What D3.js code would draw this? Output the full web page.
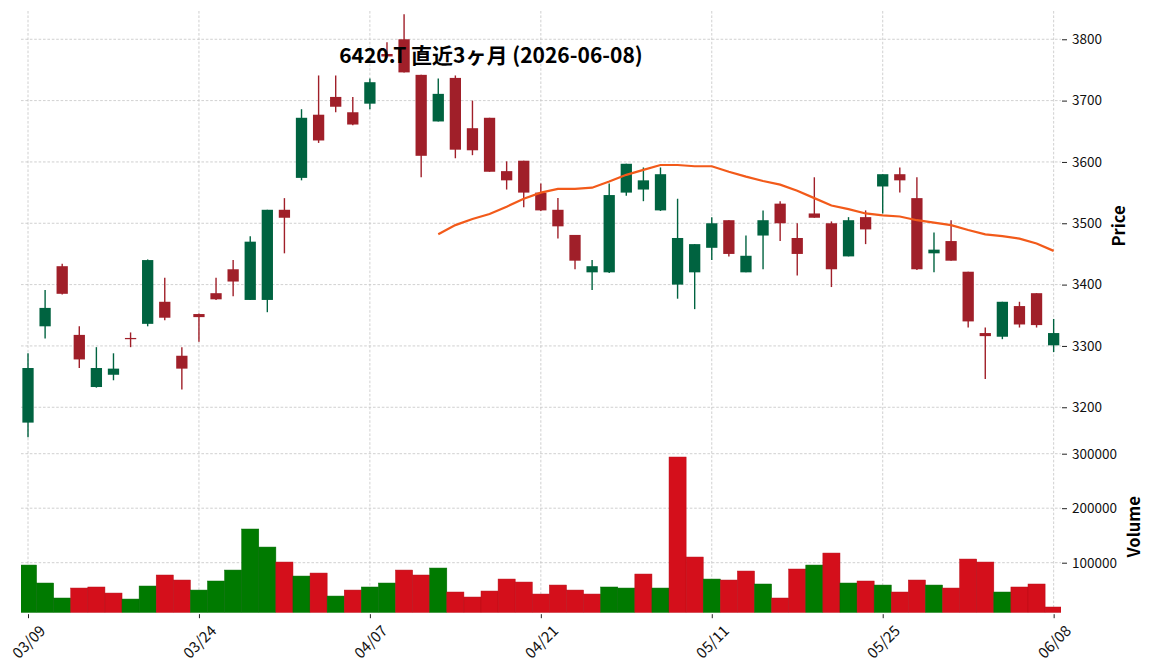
<!DOCTYPE html>
<html>
<head>
<meta charset="utf-8">
<script src="https://cdn.jsdelivr.net/npm/d3@7"></script>
<style>
  body { margin: 0; background: #fff; }
  text { font-family: "Noto Sans CJK JP", "Noto Sans", sans-serif; }
</style>
</head>
<body>
<svg id="chart" width="1152" height="670"></svg>
<script>
const dates = [
  "03/09","03/10","03/11","03/12","03/13","03/16","03/17","03/18","03/19","03/23",
  "03/24","03/25","03/26","03/27","03/30","03/31","04/01","04/02","04/03","04/06",
  "04/07","04/08","04/09","04/10","04/13","04/14","04/15","04/16","04/17","04/20",
  "04/21","04/22","04/23","04/24","04/27","04/28","04/30","05/01","05/07","05/08",
  "05/11","05/12","05/13","05/14","05/15","05/18","05/19","05/20","05/21","05/22",
  "05/25","05/26","05/27","05/28","05/29","06/01","06/02","06/03","06/04","06/05",
  "06/08"
];
const opens = [
  3175,3332,3430,3318,3233,3253,3313,3336,3372,3284,
  3352,3386,3425,3375,3375,3522,3574,3677,3706,3681,
  3695,3776,3800,3742,3666,3737,3655,3672,3585,3602,
  3550,3522,3481,3420,3420,3550,3555,3521,3400,3420,
  3460,3505,3420,3480,3532,3476,3516,3500,3446,3510,
  3560,3580,3541,3451,3471,3421,3321,3315,3365,3386,
  3301
];
const highs = [
  3288,3391,3434,3332,3298,3288,3322,3441,3411,3298,
  3353,3411,3440,3479,3522,3541,3686,3741,3741,3706,
  3736,3795,3841,3742,3736,3741,3700,3672,3601,3602,
  3565,3541,3481,3440,3565,3597,3591,3591,3540,3466,
  3510,3505,3480,3521,3536,3500,3575,3503,3510,3521,
  3580,3591,3575,3485,3505,3421,3330,3372,3372,3386,
  3344
];
const lows = [
  3151,3312,3384,3264,3232,3244,3298,3332,3342,3229,
  3307,3375,3381,3375,3355,3451,3570,3631,3681,3660,
  3686,3770,3746,3575,3666,3606,3611,3584,3555,3526,
  3520,3475,3425,3391,3419,3545,3536,3520,3377,3360,
  3440,3446,3420,3425,3471,3415,3509,3396,3446,3466,
  3516,3550,3424,3420,3439,3330,3246,3311,3330,3330,
  3290
];
const closes = [
  3264,3362,3385,3278,3264,3263,3311,3440,3346,3263,
  3347,3376,3405,3470,3522,3509,3672,3635,3690,3661,
  3730,3772,3746,3610,3711,3620,3619,3584,3570,3550,
  3521,3495,3439,3430,3546,3597,3570,3580,3476,3466,
  3500,3450,3447,3505,3500,3450,3509,3425,3505,3490,
  3580,3570,3425,3457,3439,3340,3316,3372,3335,3334,
  3321
];
const volumes = [
  95700,62700,35200,53500,55400,44300,33300,57200,77400,68200,
  49800,66400,86500,161800,128700,101200,75500,81000,38800,49800,
  55400,62700,86500,77400,90200,46200,37000,48000,70000,64500,
  42500,59000,49800,42500,55400,53500,79200,53500,293900,110400,
  70000,68200,84700,60900,35200,88400,95700,117700,62700,66400,
  59000,46200,68200,59000,53500,106700,101200,46200,55400,60900,
  18700
];
// 25-day moving average, from index 24 on
const maStart = 24;
const ma25 = [
  3482,3497,3507,3515,3527,3540,3550,3556,3556,3558,
  3568,3579,3587,3595,3595,3593,3593,3584,3576,3569,
  3563,3553,3541,3529,3523,3516,3513,3511,3505,3501,
  3497,3489,3482,3479,3475,3467,3455
];
const priceTicks = [3200, 3300, 3400, 3500, 3600, 3700, 3800];
const volumeTicks = [100000, 200000, 300000];
const dateTicks = [0, 10, 20, 30, 40, 50, 60];
const title = "6420.T 直近3ヶ月 (2026-06-08)";

const upColor = "#006340", downColor = "#a01f29";
const volUp = "#007a00", volDown = "#d40f1b";
const maColor = "#f25a1a";
const gridColor = "#c4c4c4";

const svg = d3.select("#chart");
const left = 21, right = 1061;
const price = { top: 11, bottom: 441 };
const vol = { top: 441, bottom: 612.7 };

const x = d3.scaleLinear().domain([-0.41, 60.43]).range([left, right]);
const step = x(1) - x(0);

const y = d3.scaleLinear().domain([3145.0, 3846.1]).range([price.bottom, price.top]);
const yv = d3.scaleLinear().domain([8257, 323303]).range([vol.bottom, vol.top]);

const defs = svg.append("defs");
defs.append("clipPath").attr("id", "clipPrice")
  .append("rect").attr("x", left).attr("y", price.top)
  .attr("width", right - left).attr("height", price.bottom - price.top);
defs.append("clipPath").attr("id", "clipVol")
  .append("rect").attr("x", left).attr("y", vol.top)
  .attr("width", right - left).attr("height", vol.bottom - vol.top);

//grid
const grid = svg.append("g")
  .attr("stroke", gridColor)
  .attr("stroke-width", 0.8)
  .attr("stroke-dasharray", "2.6,1.8");

grid.selectAll(".vg")
  .data(dateTicks)
  .join("line")
  .attr("x1", d => x(d)).attr("x2", d => x(d))
  .attr("y1", price.top).attr("y2", vol.bottom);

grid.selectAll(".hp")
  .data(priceTicks)
  .join("line")
  .attr("class", "hp")
  .attr("x1", left).attr("x2", right)
  .attr("y1", d => y(d)).attr("y2", d => y(d));

grid.selectAll(".hv")
  .data(volumeTicks)
  .join("line")
  .attr("class", "hv")
  .attr("x1", left).attr("x2", right)
  .attr("y1", d => yv(d)).attr("y2", d => yv(d));

//volume bars, coloured by close vs previous close
const isUpVol = i => i === 0 ? opens[0] < closes[0] : closes[i - 1] < closes[i];
const volGroup = svg.append("g").attr("clip-path", "url(#clipVol)");
volGroup.selectAll("rect")
  .data(volumes)
  .join("rect")
  .attr("x", (d, i) => x(i) - step / 2)
  .attr("width", step)
  .attr("y", d => yv(d))
  .attr("height", d => vol.bottom - yv(d))
  .attr("fill", (d, i) => isUpVol(i) ? volUp : volDown)
  .attr("stroke", (d, i) => isUpVol(i) ? "#006a00" : "#b80d17")
  .attr("stroke-width", 0.5);

//candles
const candles = svg.append("g").attr("clip-path", "url(#clipPrice)");
const idx = d3.range(dates.length);
const colorOf = i => closes[i] >= opens[i] ? upColor : downColor;

candles.selectAll("line")
  .data(idx)
  .join("line")
  .attr("x1", i => x(i)).attr("x2", i => x(i))
  .attr("y1", i => y(highs[i])).attr("y2", i => y(lows[i]))
  .attr("stroke", colorOf)
  .attr("stroke-width", 1.4);

const bodyW = step * 0.66;
candles.selectAll("rect")
  .data(idx)
  .join("rect")
  .attr("x", i => x(i) - bodyW / 2)
  .attr("width", bodyW)
  .attr("y", i => y(Math.max(opens[i], closes[i])))
  .attr("height", i => Math.max(1.2, Math.abs(y(opens[i]) - y(closes[i]))))
  .attr("fill", colorOf);

//moving average
const maLine = d3.line()
  .x((d, i) => x(i + maStart))
  .y(d => y(d));
candles.append("path")
  .datum(ma25)
  .attr("d", maLine)
  .attr("fill", "none")
  .attr("stroke", maColor)
  .attr("stroke-width", 2.2);

//axes
const styleAxis = g => {
  g.select(".domain").remove();
  g.selectAll(".tick line").attr("stroke", "#222").attr("stroke-width", 1);
  g.selectAll(".tick text")
    .attr("fill", "#111")
    .style("font-size", "13.5px")
    .style("font-family", "'Noto Sans CJK JP', 'Noto Sans', sans-serif");
};

svg.append("g")
  .attr("transform", `translate(${right + 1},0)`)
  .call(d3.axisRight(y).tickValues(priceTicks).tickSize(5).tickPadding(5).tickFormat(d3.format("d")))
  .call(styleAxis);

svg.append("g")
  .attr("transform", `translate(${right + 1},0)`)
  .call(d3.axisRight(yv).tickValues(volumeTicks).tickSize(5).tickPadding(5).tickFormat(d3.format("d")))
  .call(styleAxis);

svg.append("g")
  .attr("transform", `translate(0,${vol.bottom + 1.5})`)
  .call(d3.axisBottom(x).tickValues(dateTicks).tickSize(4).tickFormat(""))
  .call(styleAxis);

svg.append("g")
  .selectAll("text")
  .data(dateTicks)
  .join("text")
  .attr("transform", d => `translate(${x(d)},641) rotate(-45)`)
  .attr("text-anchor", "middle")
  .attr("dominant-baseline", "central")
  .attr("fill", "#111")
  .style("font-size", "15px")
  .text(d => dates[d]);

//axis labels
svg.append("text")
  .attr("transform", `translate(1118,${(price.top + price.bottom) / 2}) rotate(-90)`)
  .attr("text-anchor", "middle")
  .attr("dominant-baseline", "central")
  .style("font-size", "16.5px")
  .style("font-weight", "bold")
  .text("Price");

svg.append("text")
  .attr("transform", `translate(1133,${(vol.top + vol.bottom) / 2}) rotate(-90)`)
  .attr("text-anchor", "middle")
  .attr("dominant-baseline", "central")
  .style("font-size", "16.5px")
  .style("font-weight", "bold")
  .text("Volume");

//title
svg.append("text")
  .attr("x", 491)
  .attr("y", 63)
  .attr("text-anchor", "middle")
  .style("font-size", "21px")
  .style("font-weight", "bold")
  .attr("fill", "#000")
  .text(title);
</script>
</body>
</html>
